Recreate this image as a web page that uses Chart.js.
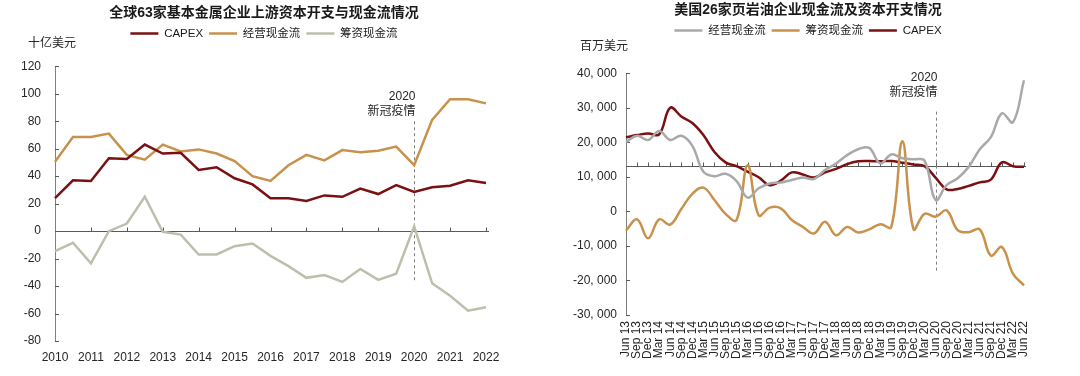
<!DOCTYPE html>
<html>
<head>
<meta charset="utf-8">
<script src="https://cdn.jsdelivr.net/npm/chart.js@4.4.0/dist/chart.umd.min.js"></script>
<style>
    html, body { margin: 0; padding: 0; background: #fff; }
    #wrap { display: flex; width: 1080px; height: 376px; }
    .box { position: relative; width: 540px; height: 376px; }
</style>
</head>
<body>
<div id="wrap">
    <div class="box"><canvas id="metals"></canvas></div>
    <div class="box"><canvas id="shale"></canvas></div>
</div>
<script>
// Left chart: 63 base-metal miners, half-year data 2010-2022 (十亿美元)
const metalLabels = ['2010', '', '2011', '', '2012', '', '2013', '', '2014', '', '2015', '', '2016', '',
    '2017', '', '2018', '', '2019', '', '2020', '', '2021', '', '2022'];
const metalCapex = [24, 37, 36.5, 53, 52.5, 63, 56.5, 57, 44.5, 46.5, 38.5, 34, 24, 24, 22, 26, 25,
    31, 27, 33.5, 28.5, 32, 33, 37, 35];
const metalOperating = [50.5, 68.5, 68.5, 71, 55.5, 52, 63, 58, 59.5, 56.5, 51, 40, 36.5, 48, 55.5,
    51.5, 59, 57.5, 58.5, 61.5, 48, 81, 96, 96, 93];
const metalFinancing = [-14.5, -8.5, -23.5, 0, 5.5, 25, -0.5, -2.5, -17, -17, -11, -9, -18, -25.5,
    -34, -32, -37, -27.5, -35.5, -31, 3.5, -38, -47, -58, -55.5];

// Right chart: 26 US shale oil companies, quarterly (百万美元)
const shaleLabels = ['Jun 13', 'Sep 13', 'Dec 13', 'Mar 14', 'Jun 14', 'Sep 14', 'Dec 14', 'Mar 15',
    'Jun 15', 'Sep 15', 'Dec 15', 'Mar 16', 'Jun 16', 'Sep 16', 'Dec 16', 'Mar 17', 'Jun 17', 'Sep 17',
    'Dec 17', 'Mar 18', 'Jun 18', 'Sep 18', 'Dec 18', 'Mar 19', 'Jun 19', 'Sep 19', 'Dec 19', 'Mar 20',
    'Jun 20', 'Sep 20', 'Dec 20', 'Mar 21', 'Jun 21', 'Sep 21', 'Dec 21', 'Mar 22', 'Jun 22'];
const shaleOperating = [20100, 21900, 20700, 23300, 20700, 21900, 19000, 11500, 10200, 10900, 8800,
    4000, 6700, 8100, 8400, 9100, 9800, 9400, 12000, 13900, 16300, 18000, 18400, 13900, 16500, 15400,
    15100, 14700, 3300, 7600, 9600, 12900, 18000, 21500, 28400, 25800, 38000];
const shaleFinancing = [-5500, -2300, -7800, -2300, -3800, 700, 5100, 6900, 3300, -700, -2500,
    13400, -1100, 1100, 900, -2500, -4500, -6400, -3000, -6900, -4500, -6100, -5200, -3700, -4500,
    20300, -5100, -700, -1500, 300, -5400, -6000, -5200, -12800, -10300, -18000, -21400];
const shaleCapex = [21500, 22100, 22600, 22300, 30000, 27500, 25600, 22100, 17200, 14200, 13100,
    11500, 9900, 7600, 8900, 11300, 10700, 9800, 11300, 12300, 13700, 14500, 14600, 14500, 14600,
    14100, 13600, 13100, 9800, 6400, 6500, 7400, 8400, 9200, 14200, 13100, 12900];

const RED = '#7a1012';
const GOLD = '#c8914c';
const SAGE = '#bfbeae';
const GREY = '#a9a9a9';
const FONT = "'Liberation Sans', Arial, 'Noto Sans CJK SC', sans-serif";

Chart.defaults.font.family = FONT;
Chart.defaults.font.size = 12;
Chart.defaults.color = '#262626';

// extra space under the legend
const legendGap = {
    id: 'legendGap',
    beforeInit(chart, args, opts) {
        const fit = chart.legend.fit;
        chart.legend.fit = function () {
            fit.call(this);
            this.height += opts.extra;
        };
    }
};

// zero/cross axis line with ticks, inward y ticks, covid marker, unit label
const refLines = {
    id: 'refLines',
    beforeDatasetsDraw(chart, args, o) {
        const { ctx, chartArea, scales: { x, y } } = chart;
        ctx.save();
        ctx.strokeStyle = '#595959';
        ctx.lineWidth = 1;
        ctx.beginPath();
        const py = Math.round(y.getPixelForValue(o.axisAt)) + 0.5;
        ctx.moveTo(chartArea.left, py);
        ctx.lineTo(chartArea.right + o.overhang, py);
        for (let i = o.tickEvery; i < x.ticks.length; i += o.tickEvery) {
            const px = Math.round(x.getPixelForTick(i)) + 0.5;
            ctx.moveTo(px, py);
            ctx.lineTo(px, py - 4);
        }
        y.ticks.forEach((t, i) => {
            const ty = Math.round(y.getPixelForTick(i)) + 0.5;
            ctx.moveTo(chartArea.left, ty);
            ctx.lineTo(chartArea.left + 4, ty);
        });
        ctx.stroke();

        const mx = Math.round(x.getPixelForValue(o.markIndex)) + 0.5;
        ctx.strokeStyle = '#7f7f7f';
        ctx.setLineDash([3, 3]);
        ctx.beginPath();
        ctx.moveTo(mx, y.getPixelForValue(o.markFrom));
        ctx.lineTo(mx, y.getPixelForValue(o.markTo));
        ctx.stroke();
        ctx.setLineDash([]);

        ctx.fillStyle = '#262626';
        ctx.font = '12px ' + FONT;
        ctx.textAlign = 'right';
        ctx.textBaseline = 'middle';
        o.markText.forEach((t, i) => ctx.fillText(t, mx + 1, y.getPixelForValue(o.markTextAt[i])));
        ctx.textAlign = 'left';
        ctx.fillText(o.unit, o.unitX, o.unitY);
        ctx.restore();
    }
};

function lineSet(label, data, color, tension) {
    return {
        label, data,
        borderColor: color,
        backgroundColor: color,
        borderWidth: 2.5,
        pointRadius: 0,
        tension,
        fill: false
    };
}

function baseOptions(cfg) {
    return {
        responsive: true,
        maintainAspectRatio: false,
        animation: false,
        layout: { padding: { left: 0, right: cfg.padRight, top: 0, bottom: 0 } },
        plugins: {
            title: {
                display: true,
                text: cfg.title,
                color: '#1a1a1a',
                font: { size: 14, weight: 'bold' },
                padding: { top: cfg.titleTop, bottom: cfg.titleBottom }
            },
            legend: {
                labels: {
                    usePointStyle: true,
                    pointStyle: 'line',
                    pointStyleWidth: 28,
                    padding: 6,
                    color: '#1a1a1a',
                    font: { size: 11.5 }
                }
            },
            tooltip: { enabled: false },
            legendGap: { extra: cfg.legendExtra },
            refLines: cfg.ref
        },
        scales: {
            x: {
                grid: { display: false, drawTicks: false },
                border: { display: false },
                afterFit: s => { s.height = cfg.xHeight; },
                ticks: cfg.xTicks
            },
            y: {
                min: cfg.yMin,
                max: cfg.yMax,
                grid: { display: false, drawTicks: false },
                border: { display: true, color: '#808080', width: 1 },
                afterFit: s => { s.width = cfg.yWidth; },
                ticks: {
                    stepSize: cfg.yStep,
                    padding: cfg.yPad,
                    callback: cfg.yFormat
                }
            },
            // empty spacer on the right so the title/legend centre matches the original
            spacer: {
                type: 'linear',
                position: 'right',
                grid: { display: false, drawTicks: false },
                border: { display: false },
                ticks: { display: false },
                afterFit: s => { s.width = cfg.spacer; }
            }
        }
    };
}

new Chart(document.getElementById('metals'), {
    type: 'line',
    data: {
        labels: metalLabels,
        datasets: [
            lineSet('CAPEX', metalCapex, RED, 0),
            lineSet('经营现金流', metalOperating, GOLD, 0),
            lineSet('筹资现金流', metalFinancing, SAGE, 0)
        ]
    },
    options: baseOptions({
        title: '全球63家基本金属企业上游资本开支与现金流情况',
        padRight: 12, spacer: 42, titleTop: 5, titleBottom: 0, legendExtra: 17,
        xHeight: 35, yWidth: 55, yPad: 14,
        yMin: -80, yMax: 120, yStep: 20,
        yFormat: v => v,
        xTicks: { autoSkip: false, maxRotation: 0, padding: 9 },
        ref: {
            axisAt: 0, overhang: 3, tickEvery: 2,
            markIndex: 20, markFrom: 80, markTo: -36,
            markText: ['2020', '新冠疫情'], markTextAt: [98, 87],
            unit: '十亿美元', unitX: 28, unitY: 44
        }
    }),
    plugins: [legendGap, refLines]
});

new Chart(document.getElementById('shale'), {
    type: 'line',
    data: {
        labels: shaleLabels,
        datasets: [
            lineSet('经营现金流', shaleOperating, GREY, 0.4),
            lineSet('筹资现金流', shaleFinancing, GOLD, 0.4),
            lineSet('CAPEX', shaleCapex, RED, 0.4)
        ]
    },
    options: baseOptions({
        title: '美国26家页岩油企业现金流及资本开支情况',
        padRight: 4, spacer: 52, titleTop: 2, titleBottom: 0, legendExtra: 27,
        xHeight: 61, yWidth: 86, yPad: 9,
        yMin: -30000, yMax: 40000, yStep: 10000,
        yFormat: v => v.toLocaleString('en-US').replace(',', ', '),
        xTicks: { autoSkip: false, minRotation: 90, maxRotation: 90, padding: 6 },
        ref: {
            axisAt: 13100, overhang: 2, tickEvery: 1,
            markIndex: 28, markFrom: 28900, markTo: -17500,
            markText: ['2020', '新冠疫情'], markTextAt: [38700, 34400],
            unit: '百万美元', unitX: 40, unitY: 47
        }
    }),
    plugins: [legendGap, refLines]
});
</script>
</body>
</html>
